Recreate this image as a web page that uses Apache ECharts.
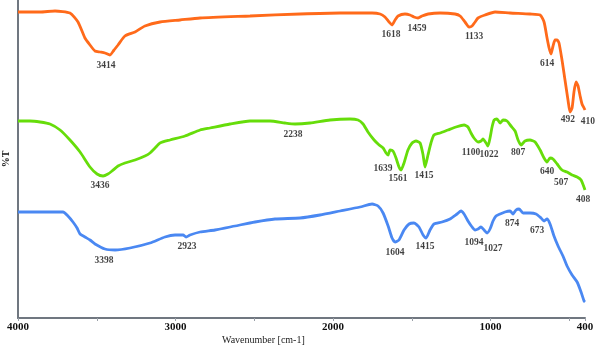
<!DOCTYPE html>
<html>
<head>
<meta charset="utf-8">
<script src="https://cdn.jsdelivr.net/npm/echarts@6/dist/echarts.min.js"></script>
<style>html,body{margin:0;padding:0;background:#fff}#c{width:597px;height:348px}</style>
</head>
<body>
<div id="c"></div>
<script>
// Wavenumber (cm-1), %T (arbitrary offset units)
const orangeData = [[4000,306],[3860,306],[3765,307],[3670,305],[3619,296],[3575,280],[3543,273],[3511,267],[3479,266],[3448,265],[3416,263],[3390,268],[3365,273],[3321,282],[3257,286],[3194,292],[3098,296],[2971,298],[2844,300],[2527,302],[2209,304],[1955,305],[1752,305],[1701,304],[1670,301],[1644,296],[1625,293],[1606,298],[1587,302],[1543,304],[1511,303],[1486,301],[1460,300],[1435,302],[1396,304],[1320,305],[1225,304],[1193,302],[1162,296],[1136,291],[1117,292],[1098,296],[1079,300],[1035,303],[971,306],[876,305],[749,304],[685,303],[660,296],[641,280],[628,270],[616,264],[603,272],[590,278],[577,278],[565,275],[546,258],[527,238],[508,218],[495,206],[482,210],[470,226],[457,236],[444,232],[431,222],[419,214],[406,210],[400,208]];
const greenData = [[4000,197],[3924,197],[3860,196],[3797,194],[3733,188],[3670,178],[3606,166],[3543,151],[3498,144],[3460,142],[3429,144],[3403,147],[3365,152],[3321,155],[3257,158],[3194,162],[3162,165],[3130,170],[3098,175],[3035,178],[2940,182],[2844,188],[2781,190],[2654,194],[2527,197],[2400,197],[2305,195],[2241,194],[2146,195],[2019,198],[1892,199],[1841,198],[1809,194],[1778,186],[1739,178],[1707,173],[1682,170],[1663,165],[1650,163],[1638,168],[1619,167],[1600,160],[1581,151],[1568,148],[1549,155],[1524,168],[1498,175],[1473,177],[1447,175],[1428,163],[1416,151],[1397,163],[1378,175],[1359,183],[1320,185],[1270,188],[1219,191],[1168,193],[1143,191],[1124,185],[1105,180],[1079,176],[1060,177],[1048,179],[1028,175],[1016,172],[1003,180],[990,191],[977,198],[959,199],[939,195],[920,198],[895,197],[870,192],[844,187],[825,178],[806,173],[781,177],[749,178],[717,176],[685,168],[660,160],[641,156],[622,160],[603,159],[577,154],[546,148],[514,146],[482,143],[450,141],[425,138],[400,128]];
const blueData = [[4000,106],[3860,106],[3714,106],[3683,102],[3651,96],[3625,90],[3606,84],[3575,81],[3543,78],[3511,74],[3448,69],[3384,68],[3289,70],[3162,75],[3067,81],[3003,83],[2952,83],[2933,81],[2908,83],[2844,86],[2749,88],[2622,92],[2495,96],[2368,99],[2209,100],[2083,103],[1955,107],[1828,111],[1752,114],[1714,112],[1682,105],[1650,92],[1625,80],[1606,76],[1581,78],[1549,88],[1517,94],[1486,95],[1454,91],[1428,83],[1409,80],[1384,88],[1359,94],[1308,96],[1257,99],[1212,104],[1187,107],[1168,104],[1143,97],[1117,91],[1098,88],[1079,89],[1060,91],[1041,88],[1022,85],[1003,89],[984,97],[965,102],[939,104],[908,106],[876,107],[857,104],[838,108],[819,109],[793,105],[749,105],[711,104],[679,100],[660,97],[641,99],[622,94],[597,82],[571,72],[540,62],[514,52],[482,43],[450,36],[425,26],[406,17],[400,16]];

// Peak labels: [x, y, text]
const orangePeaks = [[3441,252,'3414'],[1631,283,'1618'],[1466,289,'1459'],[1104,281,'1133'],[641,254,'614'],[508,198,'492'],[381,196,'410']];
const greenPeaks = [[3479,132,'3436'],[2254,183,'2238'],[1682,149,'1639'],[1587,139,'1561'],[1422,142,'1415'],[1124,165,'1100'],[1009,163,'1022'],[825,165,'807'],[641,146,'640'],[552,135,'507'],[412,118,'408']];
const bluePeaks = [[3454,57,'3398'],[2927,71,'2923'],[1606,65,'1604'],[1416,71,'1415'],[1104,75,'1094'],[984,69,'1027'],[863,94,'874'],[704,87,'673']];

const tickValues = [4000,3500,3000,2500,2000,1500,1000,500,400];
const labelValues = [4000,3000,2000,1000,400];

const colors = {orange:'#ff6a1a', green:'#66dd0a', blue:'#4a88f2'};
const serif = '"Liberation Serif", "DejaVu Serif", serif';

function lineSeries(data, color){
  return {type:'line', data, showSymbol:false, smooth:0.2, z:2,
    lineStyle:{color, width:2.8}, itemStyle:{color}, silent:true};
}
function peakSeries(peaks){
  return {type:'scatter', clip:false, symbolSize:0, z:3, silent:true,
    data: peaks.map(p=>({value:[p[0],p[1]], name:p[2]})),
    label:{show:true, position:'inside', formatter:p=>p.name, color:'#111',
      fontFamily:serif, fontWeight:'bold', fontSize:9.5}};
}

const chart = echarts.init(document.getElementById('c'), null, {renderer:'canvas'});
chart.setOption({
  animation:false,
  backgroundColor:'#fff',
  grid:{left:18, right:12, top:0, bottom:30, outerBoundsMode:'none', containLabel:false},
  xAxis:{type:'value', inverse:true, min:400, max:4000,
    axisLine:{show:true, lineStyle:{color:'#707780', width:2}},
    axisTick:{show:true, customValues:tickValues, length:3, inside:false, lineStyle:{color:'#9aa0a8', width:1}},
    axisLabel:{show:true, customValues:labelValues, formatter:v=>String(v), margin:4, color:'#111', fontFamily:serif, fontWeight:'bold', fontSize:11, hideOverlap:false},
    splitLine:{show:false}},
  yAxis:{type:'value', min:0, max:318,
    name:'%T', nameLocation:'middle', nameRotate:90, nameGap:7,
    nameTextStyle:{color:'#111', fontFamily:serif, fontWeight:'bold', fontSize:10},
    axisLine:{show:true, lineStyle:{color:'#707780', width:2}},
    axisTick:{show:false}, axisLabel:{show:false}, splitLine:{show:false}},
  graphic:[{type:'text', left:222, top:335, style:{text:'Wavenumber [cm-1]', fill:'#222', font:'10px '+serif}}],
  series:[
    lineSeries(orangeData, colors.orange),
    lineSeries(greenData, colors.green),
    lineSeries(blueData, colors.blue),
    peakSeries(orangePeaks), peakSeries(greenPeaks), peakSeries(bluePeaks)
  ]
});
</script>
</body>
</html>
